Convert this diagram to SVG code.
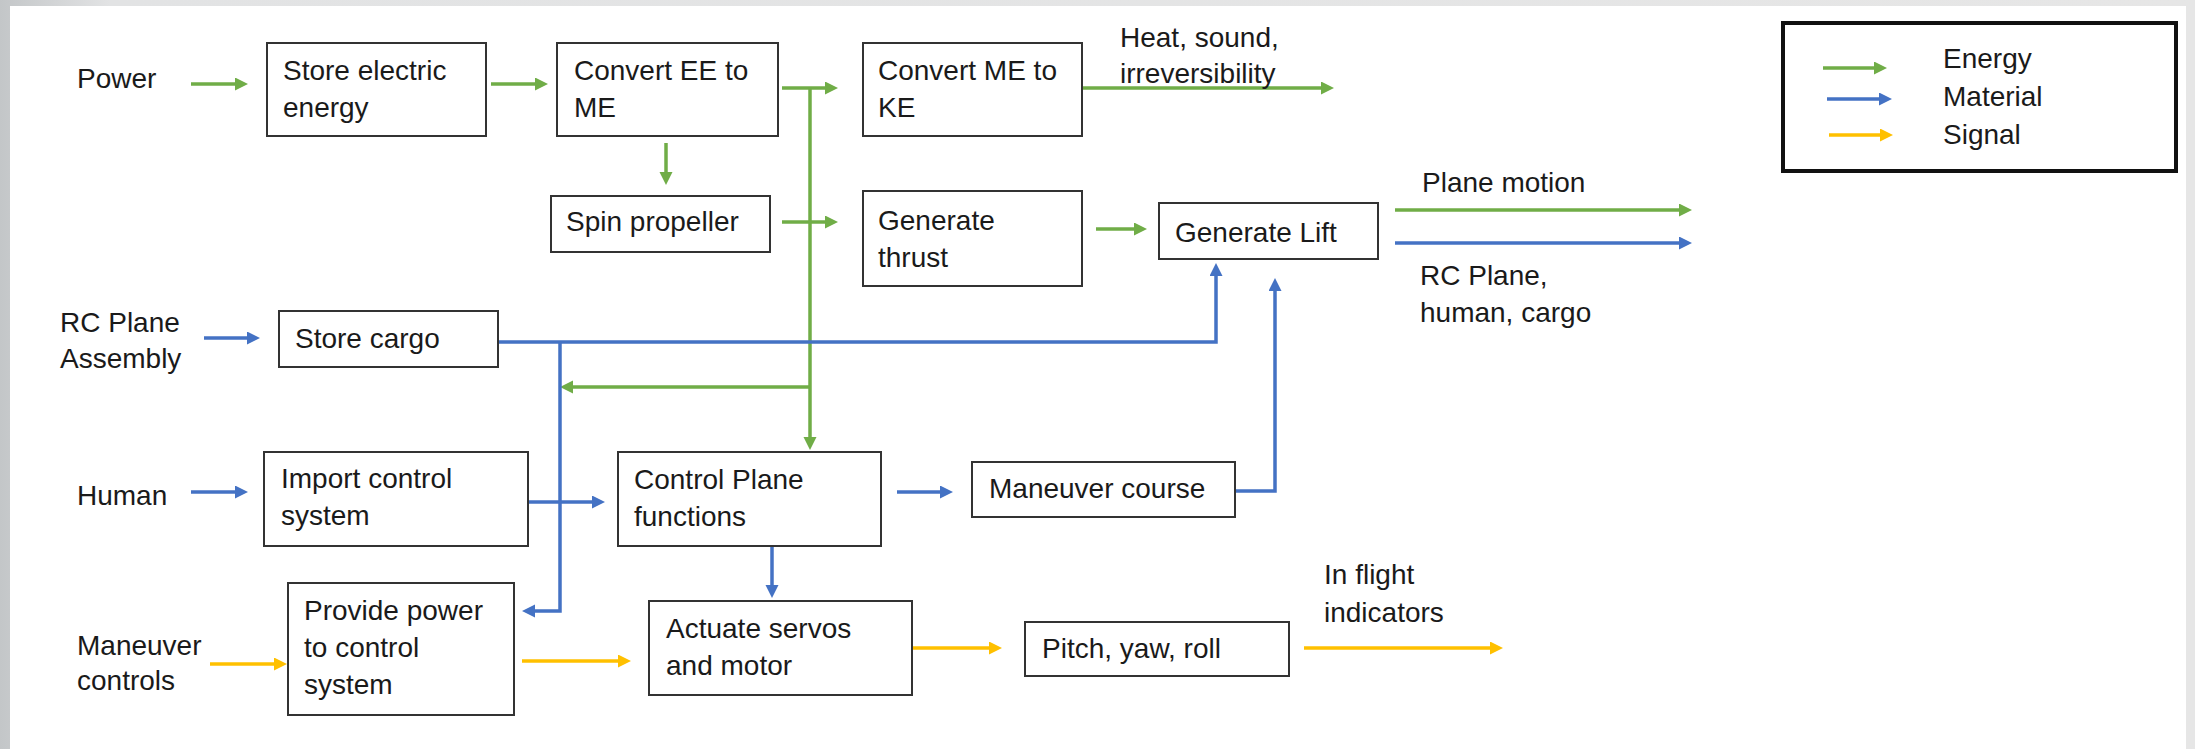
<svg xmlns="http://www.w3.org/2000/svg" width="2195" height="749" viewBox="0 0 2195 749">
<defs>
<linearGradient id="bg" x1="0" y1="0" x2="1" y2="0">
<stop offset="0" stop-color="#c3c6c8"/>
<stop offset="0.05" stop-color="#e2e3e4"/>
<stop offset="1" stop-color="#e6e6e6"/>
</linearGradient>
<marker id="ag" markerUnits="userSpaceOnUse" markerWidth="14" markerHeight="14" refX="5" refY="6.5" orient="auto"><path d="M0,0 L13,6.5 L0,13 z" fill="#70AD47"/></marker>
<marker id="ab" markerUnits="userSpaceOnUse" markerWidth="14" markerHeight="14" refX="5" refY="6.5" orient="auto"><path d="M0,0 L13,6.5 L0,13 z" fill="#4472C4"/></marker>
<marker id="ay" markerUnits="userSpaceOnUse" markerWidth="14" markerHeight="14" refX="5" refY="6.5" orient="auto"><path d="M0,0 L13,6.5 L0,13 z" fill="#FFC000"/></marker>
</defs>
<style>
text{font-family:"Liberation Sans",Arial,sans-serif;font-size:28px;fill:#1a1a1a}
.box{fill:#ffffff;stroke:#333333;stroke-width:2}
.g{fill:none;stroke:#70AD47;stroke-width:3.5}
.b{fill:none;stroke:#4472C4;stroke-width:3.5}
.y{fill:none;stroke:#FFC000;stroke-width:3.5}
.g.a{marker-end:url(#ag)}
.b.a{marker-end:url(#ab)}
.y.a{marker-end:url(#ay)}
</style>
<rect x="0" y="0" width="2195" height="749" fill="url(#bg)"/>
<rect x="10" y="6" width="2176" height="743" fill="#ffffff"/>

<g id="connectors">
<path class="g a" d="M191,84 H240"/>
<path class="g a" d="M491,84 H540"/>
<path class="g a" d="M782,88 H830"/>
<path class="g a" d="M1082,88 H1326"/>
<path class="g a" d="M666,143 V177"/>
<path class="g a" d="M782,222 H830"/>
<path class="g a" d="M810,88 V442"/>
<path class="g a" d="M810,387 H568"/>
<path class="g a" d="M1096,229 H1139"/>
<path class="g a" d="M1395,210 H1684"/>
<path class="b a" d="M204,338 H252"/>
<path class="b a" d="M498,342 H1216 V271"/>
<path class="b a" d="M560,342 V611 H530"/>
<path class="b a" d="M191,492 H240"/>
<path class="b a" d="M528,502 H597"/>
<path class="b a" d="M897,492 H945"/>
<path class="b a" d="M1235,491 H1275 V286"/>
<path class="b a" d="M772,546 V590"/>
<path class="b a" d="M1395,243 H1684"/>
<path class="y a" d="M210,664 H279"/>
<path class="y a" d="M522,661 H623"/>
<path class="y a" d="M912,648 H994"/>
<path class="y a" d="M1304,648 H1495"/>
</g>

<g id="n-power"><text x="77" y="88">Power</text></g>
<g id="n-store-electric"><rect class="box" x="267" y="43" width="219" height="93"/><text x="283" y="80">Store electric</text><text x="283" y="117">energy</text></g>
<g id="n-convert-ee"><rect class="box" x="557" y="43" width="221" height="93"/><text x="574" y="80">Convert EE to</text><text x="574" y="117">ME</text></g>
<g id="n-convert-me"><rect class="box" x="863" y="43" width="219" height="93"/><text x="878" y="80">Convert ME to</text><text x="878" y="117">KE</text></g>
<g id="n-heat"><text x="1120" y="47">Heat, sound,</text><text x="1120" y="83">irreversibility</text></g>
<g id="n-spin"><rect class="box" x="551" y="196" width="219" height="56"/><text x="566" y="231">Spin propeller</text></g>
<g id="n-thrust"><rect class="box" x="863" y="191" width="219" height="95"/><text x="878" y="230">Generate</text><text x="878" y="267">thrust</text></g>
<g id="n-lift"><rect class="box" x="1159" y="203" width="219" height="56"/><text x="1175" y="242">Generate Lift</text></g>
<g id="n-plane-motion"><text x="1422" y="192">Plane motion</text></g>
<g id="n-rc-out"><text x="1420" y="285">RC Plane,</text><text x="1420" y="322">human, cargo</text></g>
<g id="n-rc-assembly"><text x="60" y="332">RC Plane</text><text x="60" y="368">Assembly</text></g>
<g id="n-store-cargo"><rect class="box" x="279" y="311" width="219" height="56"/><text x="295" y="348">Store cargo</text></g>
<g id="n-human"><text x="77" y="505">Human</text></g>
<g id="n-import"><rect class="box" x="264" y="452" width="264" height="94"/><text x="281" y="488">Import control</text><text x="281" y="525">system</text></g>
<g id="n-control"><rect class="box" x="618" y="452" width="263" height="94"/><text x="634" y="489">Control Plane</text><text x="634" y="526">functions</text></g>
<g id="n-maneuver-course"><rect class="box" x="972" y="462" width="263" height="55"/><text x="989" y="498">Maneuver course</text></g>
<g id="n-maneuver-controls"><text x="77" y="655">Maneuver</text><text x="77" y="690">controls</text></g>
<g id="n-provide"><rect class="box" x="288" y="583" width="226" height="132"/><text x="304" y="620">Provide power</text><text x="304" y="657">to control</text><text x="304" y="694">system</text></g>
<g id="n-actuate"><rect class="box" x="649" y="601" width="263" height="94"/><text x="666" y="638">Actuate servos</text><text x="666" y="675">and motor</text></g>
<g id="n-pitch"><rect class="box" x="1025" y="622" width="264" height="54"/><text x="1042" y="658">Pitch, yaw, roll</text></g>
<g id="n-inflight"><text x="1324" y="584">In flight</text><text x="1324" y="622">indicators</text></g>

<g id="legend">
<rect x="1783" y="23" width="393" height="148" fill="#ffffff" stroke="#111111" stroke-width="4"/>
<path class="g a" d="M1823,68 H1879"/>
<path class="b a" d="M1827,99 H1884"/>
<path class="y a" d="M1829,135 H1885"/>
<text x="1943" y="68">Energy</text>
<text x="1943" y="106">Material</text>
<text x="1943" y="144">Signal</text>
</g>
</svg>
